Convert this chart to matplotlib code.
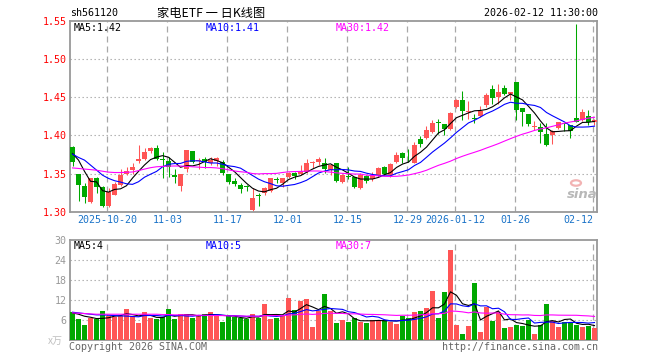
import numpy as np
import pandas as pd
import matplotlib
matplotlib.use('Agg')
import matplotlib.pyplot as plt

plt.rcParams['font.family'] = ['DejaVu Sans Mono', 'Noto Sans CJK SC']

# chart text
code = 'sh561120'
title = '家电ETF 一 日K线图'
stamp = '2026-02-12 11:30:00'
price_legend = ['MA5:1.42', 'MA10:1.41', 'MA30:1.42']
vol_legend = ['MA5:4', 'MA10:5', 'MA30:7']

# daily candles, 2025-10-10 .. 2026-02-12
opens = [1.3847, 1.3495, 1.3338, 1.3125, 1.3438, 1.3320, 1.3077, 1.3225, 1.3351, 1.3495,
         1.3546, 1.3659, 1.3686, 1.3790, 1.3842, 1.3680, 1.3660, 1.3486, 1.3338, 1.3555,
         1.3795, 1.3670, 1.3694, 1.3634, 1.3668, 1.3650, 1.3490, 1.3400, 1.3347, 1.3331,
         1.3025, 1.3211, 1.3243, 1.3277, 1.3418, 1.3373, 1.3460, 1.3503, 1.3490, 1.3525,
         1.3634, 1.3655, 1.3642, 1.3547, 1.3634, 1.3395, 1.3462, 1.3450, 1.3307, 1.3468,
         1.3425, 1.3481, 1.3590, 1.3481, 1.3647, 1.3764, 1.3711, 1.3642, 1.3959, 1.3960,
         1.4047, 1.4164, 1.4147, 1.4080, 1.4374, 1.4469, 1.4312, 1.4219, 1.4251, 1.4395,
         1.4613, 1.4504, 1.4626, 1.4539, 1.4700, 1.4352, 1.4274, 1.4110, 1.4104, 1.4017,
         1.4001, 1.4091, 1.4150, 1.4134, 1.4222, 1.4200, 1.4252, 1.4169]
highs = [1.3860, 1.3500, 1.3382, 1.3445, 1.3450, 1.3340, 1.3307, 1.3395, 1.3555, 1.3581,
         1.3633, 1.3872, 1.3829, 1.3851, 1.3872, 1.3786, 1.3720, 1.3564, 1.3500, 1.3815,
         1.3800, 1.3699, 1.3712, 1.3720, 1.3720, 1.3677, 1.3500, 1.3438, 1.3373, 1.3350,
         1.3307, 1.3242, 1.3330, 1.3440, 1.3460, 1.3445, 1.3525, 1.3525, 1.3612, 1.3686,
         1.3660, 1.3712, 1.3703, 1.3620, 1.3634, 1.3500, 1.3581, 1.3460, 1.3503, 1.3481,
         1.3525, 1.3590, 1.3599, 1.3634, 1.3786, 1.3786, 1.3817, 1.3916, 1.3990, 1.4120,
         1.4207, 1.4220, 1.4155, 1.4310, 1.4482, 1.4580, 1.4450, 1.4280, 1.4390, 1.4560,
         1.4656, 1.4669, 1.4656, 1.4569, 1.4700, 1.4365, 1.4285, 1.4187, 1.4165, 1.4156,
         1.4068, 1.4177, 1.4156, 1.4134, 1.5453, 1.4339, 1.4330, 1.4221]
lows = [1.3599, 1.3142, 1.3121, 1.3120, 1.3251, 1.3060, 1.3070, 1.3215, 1.3338, 1.3480,
        1.3490, 1.3634, 1.3677, 1.3764, 1.3677, 1.3438, 1.3460, 1.3373, 1.3277, 1.3525,
        1.3634, 1.3555, 1.3570, 1.3615, 1.3595, 1.3480, 1.3360, 1.3340, 1.3242, 1.3273,
        1.3016, 1.3077, 1.3220, 1.3264, 1.3372, 1.3330, 1.3438, 1.3425, 1.3480, 1.3512,
        1.3568, 1.3612, 1.3503, 1.3480, 1.3386, 1.3382, 1.3425, 1.3310, 1.3300, 1.3373,
        1.3408, 1.3460, 1.3481, 1.3460, 1.3634, 1.3634, 1.3655, 1.3634, 1.3850, 1.3950,
        1.4030, 1.4025, 1.4007, 1.4077, 1.4365, 1.4200, 1.4220, 1.4160, 1.4238, 1.4375,
        1.4417, 1.4408, 1.4525, 1.4460, 1.4200, 1.4121, 1.4121, 1.4069, 1.3904, 1.3860,
        1.3882, 1.4078, 1.4060, 1.3960, 1.4169, 1.4191, 1.4135, 1.4135]
closes = [1.3655, 1.3351, 1.3190, 1.3438, 1.3329, 1.3081, 1.3256, 1.3364, 1.3477, 1.3534,
          1.3581, 1.3694, 1.3782, 1.3829, 1.3695, 1.3677, 1.3590, 1.3460, 1.3495, 1.3808,
          1.3655, 1.3680, 1.3655, 1.3677, 1.3699, 1.3503, 1.3390, 1.3360, 1.3294, 1.3325,
          1.3177, 1.3207, 1.3307, 1.3438, 1.3416, 1.3438, 1.3512, 1.3468, 1.3534, 1.3634,
          1.3651, 1.3686, 1.3560, 1.3612, 1.3408, 1.3480, 1.3459, 1.3320, 1.3481, 1.3408,
          1.3480, 1.3568, 1.3494, 1.3620, 1.3743, 1.3699, 1.3699, 1.3873, 1.3886, 1.4077,
          1.4164, 1.4160, 1.4080, 1.4295, 1.4460, 1.4321, 1.4318, 1.4216, 1.4317, 1.4526,
          1.4495, 1.4569, 1.4548, 1.4569, 1.4330, 1.4309, 1.4147, 1.4112, 1.4047, 1.3873,
          1.4060, 1.4169, 1.4148, 1.4060, 1.4169, 1.4304, 1.4178, 1.4208]
volumes = [8.5, 6.4, 4.6, 6.6, 6.4, 8.8, 7.3, 7.0, 7.4, 9.4,
           7.4, 5.3, 8.4, 6.8, 6.4, 7.0, 9.4, 6.4, 7.8, 7.8,
           6.8, 7.6, 7.8, 8.6, 7.6, 5.6, 7.3, 7.0, 6.6, 6.4,
           7.9, 6.8, 10.9, 6.4, 6.6, 7.4, 12.7, 9.0, 11.8, 12.4,
           4.0, 8.7, 13.8, 8.7, 5.3, 6.1, 5.6, 6.6, 5.6, 5.3,
           6.1, 6.1, 6.1, 5.6, 4.9, 7.4, 6.8, 8.6, 8.8, 9.8,
           14.6, 6.8, 14.3, 27.0, 4.6, 1.9, 4.3, 17.0, 2.6, 10.1,
           5.8, 8.4, 3.6, 4.1, 4.6, 4.4, 6.1, 1.9, 4.6, 10.9,
           5.9, 4.1, 5.6, 5.3, 4.6, 4.1, 4.4, 3.6]

# moving averages before a full window is available
ma5_head = [1.3764, 1.3677, 1.3530, 1.3400]
ma10_head = [1.3755, 1.3712, 1.3677, 1.3612, 1.3547, 1.3480, 1.3438, 1.3408, 1.3390]
ma30_head = [1.3575, 1.3568, 1.3560, 1.3553, 1.3545, 1.3532, 1.3520, 1.3515, 1.3515, 1.3518,
             1.3522, 1.3540, 1.3560, 1.3578, 1.3590, 1.3595, 1.3599, 1.3600, 1.3600, 1.3595,
             1.3590, 1.3585, 1.3580, 1.3580, 1.3575, 1.3565, 1.3550, 1.3535, 1.3525]
vma5_head = [8.2, 7.8, 7.2, 6.9]
vma10_head = [8.4, 8.2, 8.0, 7.8, 7.6, 7.6, 7.5, 7.4, 7.3]
vma30_head = [8.2, 8.1, 8.0, 7.9, 7.8, 7.8, 7.8, 7.8, 7.8, 7.8,
              7.8, 7.8, 7.8, 7.8, 7.8, 7.7, 7.7, 7.6, 7.6, 7.6,
              7.5, 7.5, 7.5, 7.4, 7.4, 7.4, 7.3, 7.3, 7.3]

tick_pos = [6, 16, 26, 36, 46, 56, 64, 74, 87]
tick_labels = ['2025-10-20', '11-03', '11-17', '12-01', '12-15', '12-29', '2026-01-12', '01-26', '02-12']
price_ticks = [1.30, 1.35, 1.40, 1.45, 1.50, 1.55]
vol_ticks = [0, 6, 12, 18, 24, 30]

RED = '#ff5555'
GREEN = '#00a800'
GRID = '#a8a8a8'
FRAME = '#999999'


def moving(values, n, head):
    out = pd.Series(values).rolling(n).mean().to_numpy()
    out[:n - 1] = head
    return out


def frame(ax):
    for s in ax.spines.values():
        s.set_color(FRAME)
        s.set_linewidth(1.3)
    ax.set_xlim(-0.42, 87.42)
    for t in tick_pos:
        ax.axvline(t - 0.2, color=GRID, lw=0.9, ls=(0, (4.8, 3.2)), zorder=1)


x = np.arange(len(closes))
o = np.array(opens)
c = np.array(closes)
up = c >= o
colors = np.where(up, RED, GREEN)

fig = plt.figure(figsize=(6.6, 3.6), dpi=100)
W, H = 660.0, 360.0
ax = fig.add_axes([70 / W, 1 - 211.9 / H, 527 / W, 191.2 / H])
axv = fig.add_axes([70 / W, 1 - 340.3 / H, 527 / W, 100.3 / H])

# price panel
frame(ax)
ax.set_ylim(1.30, 1.55)
for p in price_ticks[1:-1]:
    ax.axhline(p, color=GRID, lw=0.8, ls=(0, (1.2, 2.4)), zorder=1)
ax.vlines(x, lows, highs, colors=colors, lw=0.75, zorder=2)
ax.bar(x, np.maximum(np.abs(c - o), 0.0012), bottom=np.minimum(o, c), width=0.83,
       color=colors, linewidth=0, zorder=3)
ax.plot(x, moving(closes, 5, ma5_head), color='black', lw=0.8, zorder=4)
ax.plot(x, moving(closes, 10, ma10_head), color='#0000ff', lw=0.8, zorder=4)
ax.plot(x, moving(closes, 30, ma30_head), color='#ff00ff', lw=0.8, zorder=4)
ax.set_yticks(price_ticks)
ax.set_yticklabels(['%.2f' % p for p in price_ticks], color='#ff0000', fontsize=7.2)
ax.set_xticks([t - 0.2 for t in tick_pos])
ax.set_xticklabels(tick_labels, color='#1a73c8', fontsize=7.2)
ax.get_xticklabels()[-1].set_ha('right')
ax.tick_params(length=0, pad=2.5)

# volume panel
frame(axv)
axv.set_ylim(0, 30)
for v in vol_ticks[1:-1]:
    axv.axhline(v, color=GRID, lw=0.8, ls=(0, (1.2, 2.4)), zorder=1)
axv.bar(x, volumes, width=0.83, color=colors, linewidth=0, zorder=3)
axv.plot(x, moving(volumes, 5, vma5_head), color='black', lw=0.8, zorder=4)
axv.plot(x, moving(volumes, 10, vma10_head), color='#0000ff', lw=0.8, zorder=4)
axv.plot(x, moving(volumes, 30, vma30_head), color='#ff00ff', lw=0.8, zorder=4)
axv.set_yticks(vol_ticks[1:])
axv.set_yticklabels([str(v) for v in vol_ticks[1:]], color='#999999', fontsize=7.2)
axv.set_xticks([])
axv.tick_params(length=0, pad=2.5)


def put(px, py, s, size=7.2, **kw):
    fig.text(px / W, 1 - py / H, s, va='center', fontsize=size, **kw)


put(70, 13, code, color='black')
put(211, 13, title, size=8.8, ha='center', color='black',
    family=['Noto Sans CJK SC', 'DejaVu Sans'])
put(598, 13, stamp, ha='right', color='black')
for px, s, col in zip([74, 206, 336], price_legend, ['black', '#0000ff', '#ff00ff']):
    put(px, 28, s, color=col)
for px, s, col in zip([74, 206, 336], vol_legend, ['black', '#0000ff', '#ff00ff']):
    put(px, 246, s, color=col)
put(63, 341, 'x万', ha='right', color='#c0c0c0', family=['Noto Sans CJK SC', 'DejaVu Sans'])
put(69, 347, 'Copyright 2026 SINA.COM', color='#666666')
put(598, 347, 'http://finance.sina.com.cn', ha='right', color='#666666')

# sina watermark
fig.patches.append(plt.Circle((576 / W, 1 - 183 / H), 5 / W, transform=fig.transFigure,
                              fill=False, ec='#f2b3b3', lw=1.6))
put(582, 194, 'sina', size=9.5, ha='center', color='#b8b8b8', style='italic',
    weight='bold', family=['DejaVu Sans'])

fig.savefig('out.png', dpi=100)
